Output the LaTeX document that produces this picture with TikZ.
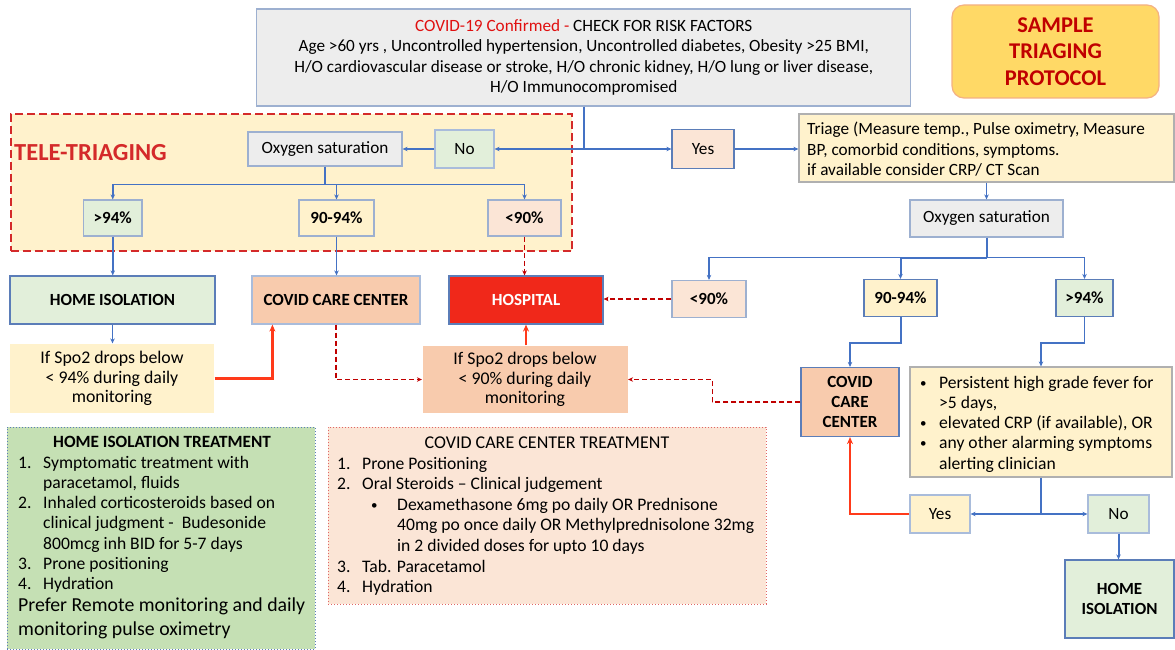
\documentclass[tikz,border=0pt]{standalone}
\usepackage{fontspec}
\setmainfont{Carlito}
\usetikzlibrary{arrows.meta,calc}
\definecolor{grayfill}{HTML}{EDEDED}
\definecolor{grayedge}{HTML}{9DB0D0}
\definecolor{greenfill}{HTML}{E2EFDA}
\definecolor{yelfill}{HTML}{FFF2CC}
\definecolor{pinkfill}{HTML}{FBE5D6}
\definecolor{salfill}{HTML}{F8CBAD}
\definecolor{hospred}{HTML}{F0281A}
\definecolor{edgeblue}{HTML}{5B7DB8}
\definecolor{lightedge}{HTML}{A9BCDB}
\definecolor{boxgray}{HTML}{B0B0B0}
\definecolor{lineblue}{HTML}{4472C4}
\definecolor{linered}{HTML}{FF3A1A}
\definecolor{dashred}{HTML}{C00000}
\definecolor{teleedge}{HTML}{D42A2A}
\definecolor{samplefill}{HTML}{FFD966}
\definecolor{sampleedge}{HTML}{F4B183}
\definecolor{sampletext}{HTML}{C00000}
\definecolor{covidred}{HTML}{E01010}
\definecolor{treatgreen}{HTML}{C5E0B4}
\definecolor{treatedge}{HTML}{E06666}
\newcommand\myfs[2]{\fontsize{#1}{#2}\selectfont}
\newcommand\smallbul{\raisebox{1pt}{\myfs{13}{13}\textbullet}}
\begin{document}
\begin{tikzpicture}[x=1pt,y=-1pt,
  sz/.style 2 args={minimum width=#1pt, minimum height=#2pt},
  base/.style={rectangle, inner sep=0pt, align=center, line width=1.2pt, font=\myfs{17.2}{20.5}},
  graybox/.style={base, draw=grayedge, fill=grayfill},
  greenbox/.style={base, draw=edgeblue, fill=greenfill},
  yelbox/.style={base, draw=lightedge, fill=yelfill},
  pinkbox/.style={base, draw=edgeblue, fill=pinkfill},
  salbox/.style={base, draw=edgeblue, fill=salfill},
  lbl/.style={font=\bfseries\myfs{17}{20.5}},
  txt/.style={inner sep=0pt, anchor=base west},
  tip/.style={-{Stealth[length=5pt,width=4.5pt]}},
  bline/.style={draw=lineblue, line width=1.5pt},
  barr/.style={bline, tip},
  rarr/.style={draw=linered, line width=2.6pt, -{Stealth[length=7pt,width=6pt]}},
  rdarr/.style={draw=dashred, line width=1.5pt, dash pattern=on 5pt off 3pt, tip}
]
\useasboundingbox (0,0) rectangle (1175,650);

% tele-triaging region
\node[base, fill=yelfill, draw=teleedge, line width=2pt, dash pattern=on 8pt off 4pt, sz={561.5}{137}] (tele) at (291.25,182.5) {};
\node[inner sep=0pt, anchor=west, text=teleedge, font=\bfseries\myfs{24.5}{27}] (telelbl) at (14,153) {TELE-TRIAGING};

% top
\node[graybox, sz={654}{97}] (top) at (583.75,57.5)
  {\textcolor{covidred}{COVID-19 Confirmed -} CHECK FOR RISK FACTORS\\
   Age >60 yrs , Uncontrolled hypertension, Uncontrolled diabetes, Obesity >25 BMI,\\
   H/O cardiovascular disease or stroke, H/O chronic kidney, H/O lung or liver disease,\\
   H/O Immunocompromised};

\node[rounded corners=12pt, draw=sampleedge, fill=samplefill, line width=1.2pt, sz={207}{93},
  align=center, text=sampletext, font=\bfseries\myfs{22.5}{26.5}] (sample) at (1055.5,51.5)
  {SAMPLE\\TRIAGING\\PROTOCOL};

% left tele part
\node[graybox, sz={154}{34}] (oxL) at (325,149) {Oxygen saturation};
\node[greenbox, draw=lightedge, sz={59}{38}] (noL) at (464.5,149) {No};
\node[pinkbox, sz={62}{39}] (yes) at (703,149) {Yes};
\node[yelbox, draw=boxgray, sz={375}{68}] (triage) at (986.5,148) {};
\node[txt, font=\myfs{17.2}{20.7}] (triagetxt) at (807,134.5)
  {\begin{tabular}[t]{@{}l@{}}Triage (Measure temp., Pulse oximetry, Measure\\
   BP, comorbid conditions, symptoms.\\ if available consider CRP/ CT Scan\end{tabular}};
\node[graybox, sz={153}{37}] (oxR) at (986.5,218.5) {Oxygen saturation};

\node[greenbox, draw=grayedge, sz={58.5}{36}, lbl] (g94L) at (112.75,218) {>94\%};
\node[yelbox, draw=grayedge, sz={75}{36}, lbl] (m94L) at (336.5,218) {90-94\%};
\node[pinkbox, draw=grayedge, sz={73}{36}, lbl] (l90L) at (524.5,218) {<90\%};

\node[greenbox, sz={205}{48}, lbl] (homeiso) at (112.5,300) {HOME ISOLATION};
\node[salbox, draw=lightedge, sz={168}{48}, lbl] (ccc) at (336,300) {COVID CARE CENTER};
\node[base, draw=edgeblue, fill=hospred, text=white, sz={154}{48}, lbl] (hosp) at (526,300) {HOSPITAL};

\node[base, fill=yelfill, sz={204}{69}, font=\myfs{17.8}{19.8}] (spo94) at (112,378.5)
  {If Spo2 drops below\\< 94\% during daily\\monitoring};
\node[base, fill=salfill, sz={205}{67}, font=\myfs{17.8}{19.8}] (spo90) at (525,379.5)
  {If Spo2 drops below\\< 90\% during daily\\monitoring};

% right side
\node[pinkbox, draw=grayedge, sz={74}{37}, lbl] (l90R) at (709,299) {<90\%};
\node[yelbox, draw=edgeblue, sz={73}{37}, lbl] (m94R) at (900.5,298) {90-94\%};
\node[greenbox, sz={57}{37}, lbl] (g94R) at (1084.5,298) {>94\%};
\node[salbox, sz={98}{69}, font=\bfseries\myfs{17}{20}] (cccR) at (850,402) {COVID\\CARE\\CENTER};
\node[yelbox, draw=boxgray, sz={262}{110}] (bul) at (1041,422) {};
\node[txt, font=\myfs{17.6}{20.3}] (bultxt) at (920,388)
  {\begin{tabular}[t]{@{}p{19pt}@{}l@{}}
   \smallbul & Persistent high grade fever for\\
   & >5 days,\\
   \smallbul & elevated CRP (if available), OR\\
   \smallbul & any other alarming symptoms\\
   & alerting clinician
   \end{tabular}};
\node[yelbox, sz={60}{38}] (yesR) at (940,514) {Yes};
\node[greenbox, draw=lightedge, sz={61}{38}] (noR) at (1118.5,514) {No};
\node[greenbox, sz={109}{78}, lbl] (homeR) at (1119.5,599) {HOME\\ISOLATION};

% treatment boxes
\node[base, fill=treatgreen, draw=edgeblue, line width=1pt, dotted, sz={308}{222}] (hitreat) at (161,538) {};
\node[inner sep=0pt, font=\bfseries\myfs{17.2}{20}] (hihead) at (162,442) {HOME ISOLATION TREATMENT};
\node[txt, font=\myfs{17.6}{20.3}] (hilist) at (18,468)
  {\begin{tabular}[t]{@{}p{25pt}@{}l@{}}
   1. & Symptomatic treatment with\\
   & paracetamol, fluids\\
   2. & Inhaled corticosteroids based on\\
   & clinical judgment -\ \ Budesonide\\
   & 800mcg inh BID for 5-7 days\\
   3. & Prone positioning\\
   4. & Hydration\\[1.5pt]
   \multicolumn{2}{@{}l@{}}{\myfs{19.8}{22}Prefer Remote monitoring and daily}\\[4pt]
   \multicolumn{2}{@{}l@{}}{\myfs{19.8}{22}monitoring pulse oximetry}
   \end{tabular}};

\node[base, fill=pinkfill, draw=treatedge, line width=1pt, dotted, sz={438}{177}] (ccctreat) at (547,515.5) {};
\node[inner sep=0pt, font=\myfs{18}{20}] (ccchead) at (547,443) {COVID CARE CENTER TREATMENT};
\node[txt, font=\myfs{17.6}{20.6}] (ccclist) at (337,469)
  {\begin{tabular}[t]{@{}p{25pt}@{}l@{}}
   1. & Prone Positioning\\
   2. & Oral Steroids -- Clinical judgement\\
   & \makebox[35pt][l]{\hspace{9pt}\smallbul}Dexamethasone 6mg po daily OR Prednisone\\
   & \hspace{35pt}40mg po once daily OR Methylprednisolone 32mg\\
   & \hspace{35pt}in 2 divided doses for upto 10 days\\
   3. & Tab. Paracetamol\\
   4. & Hydration
   \end{tabular}};

% connectors
\draw[barr] (top.south) |- (noL.east);
\draw[barr] (top.south) |- (yes.west);
\draw[barr] (yes.east) -- (yes.east -| triage.west);
\draw[barr] (noL.west) -- (noL.west -| oxL.east);
\coordinate (bl) at ($(oxL.south)+(0,18)$);
\draw[bline] (oxL.south) -- (bl);
\draw[barr] (bl) -| (g94L.north);
\draw[barr] (bl) -| (m94L.north);
\draw[barr] (bl) -| (l90L.north);
\draw[barr] (g94L.south) -- (g94L.south |- homeiso.north);
\draw[barr] (m94L.south) -- (m94L.south |- ccc.north);
\draw[rdarr] (l90L.south) -- (l90L.south |- hosp.north);
\draw[barr] (homeiso.south) -- (homeiso.south |- spo94.north);
\draw[rarr] (spo94.east) -| ($(ccc.south west)+(21,0)$);
\draw[rdarr] (ccc.south) |- (spo90.west);
\draw[rarr] (hosp.south |- spo90.north) -- (hosp.south);
\draw[rdarr] (l90R.west) -- (l90R.west -| hosp.east);

\draw[barr] (triage.south -| oxR.north) -- (oxR.north);
\coordinate (br) at ($(oxR.south)+(0,20)$);
\draw[bline, line width=2pt] (oxR.south) -- (br);
\draw[barr] (br) -| (l90R.north);
\draw[barr, line width=2pt] (br) -| (m94R.north);
\draw[barr] (br) -| (g94R.north);
\draw[barr, line width=2pt] (m94R.south) -- ++(0,26) -| (cccR.north);
\draw[barr] (g94R.south) -- ++(0,26) -| (bul.north);
\draw[rdarr] (cccR.west) -- ++(-88,0) |- (spo90.east);
\coordinate (bs) at (bul.south |- yesR.east);
\draw[bline] (bul.south) -- (bs);
\draw[barr] (bs) -- (yesR.east);
\draw[barr] (bs) -- (noR.west);
\draw[rarr] (yesR.west) -| (cccR.south);
\draw[barr, line width=2pt] (noR.south) -- (noR.south |- homeR.north);
\end{tikzpicture}
\end{document}
